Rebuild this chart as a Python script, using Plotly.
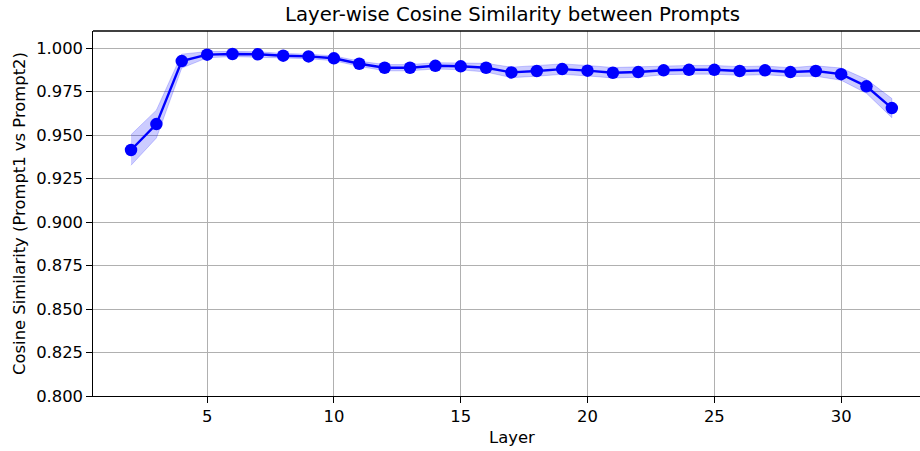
import plotly.graph_objects as go

layers = list(range(2, 33))
similarity = [0.9414, 0.9563, 0.9925, 0.9962, 0.9966, 0.9964, 0.9956, 0.9952, 0.9941,
              0.9910, 0.9887, 0.9887, 0.9898, 0.9895, 0.9887, 0.9860, 0.9868, 0.9879,
              0.9870, 0.9858, 0.9862, 0.9872, 0.9875, 0.9875, 0.9868, 0.9872, 0.9862,
              0.9868, 0.9850, 0.9780, 0.9655]
spread = [0.0088, 0.0080, 0.0040, 0.0018, 0.0015, 0.0015, 0.0013, 0.0013, 0.0014,
          0.0015, 0.0018, 0.0018, 0.0018, 0.0020, 0.0025, 0.0030, 0.0030, 0.0030,
          0.0030, 0.0030, 0.0030, 0.0025, 0.0025, 0.0025, 0.0025, 0.0025, 0.0025,
          0.0030, 0.0035, 0.0040, 0.0055]
x_ticks = [5, 10, 15, 20, 25, 30]
y_ticks = [0.800, 0.825, 0.850, 0.875, 0.900, 0.925, 0.950, 0.975, 1.000]

upper = [m + s for m, s in zip(similarity, spread)]
lower = [m - s for m, s in zip(similarity, spread)]

FONT = "DejaVu Sans"
LABEL = 16.4
TITLE = 19.7
# horizontal centre of the full axes box (it runs a little past the page edge)
CENTER_X = (512 - 93) / 827

fig = go.Figure()
fig.add_trace(go.Scatter(
    x=layers + layers[::-1], y=upper + lower[::-1],
    fill="toself", fillcolor="rgba(0,0,255,0.2)",
    line=dict(color="rgba(0,0,255,0.2)", width=1),
    hoverinfo="skip", showlegend=False))
fig.add_trace(go.Scatter(
    x=layers, y=similarity, mode="lines+markers",
    line=dict(color="#0000ff", width=2.4),
    marker=dict(color="#0000ff", size=12.5),
    showlegend=False))

fig.update_layout(
    width=920, height=451,
    margin=dict(l=93, r=0, t=31, b=55),
    paper_bgcolor="white", plot_bgcolor="white",
    font=dict(family=FONT, size=LABEL, color="black"),
    xaxis=dict(range=[0.5, 33.11], tickvals=x_ticks,
               showgrid=True, gridcolor="#b0b0b0", gridwidth=1.3,
               showline=True, linecolor="black", linewidth=1.3,
               ticks="outside", ticklen=5.5, tickcolor="black", tickwidth=1.3,
               zeroline=False, tickfont=dict(family=FONT, size=LABEL)),
    yaxis=dict(range=[0.8, 1.0098], tickvals=y_ticks,
               ticktext=[f"{v:.3f}" for v in y_ticks],
               showgrid=True, gridcolor="#b0b0b0", gridwidth=1.3,
               showline=True, linecolor="black", linewidth=1.3,
               ticks="outside", ticklen=5.5, tickcolor="black", tickwidth=1.3,
               zeroline=False, tickfont=dict(family=FONT, size=LABEL),
               title=dict(text="Cosine Similarity (Prompt1 vs Prompt2)",
                          font=dict(family=FONT, size=LABEL), standoff=6)),
    annotations=[
        dict(text="Layer-wise Cosine Similarity between Prompts",
             xref="paper", yref="paper", x=CENTER_X, y=1,
             yshift=3, xanchor="center", yanchor="bottom",
             showarrow=False, font=dict(family=FONT, size=TITLE)),
        dict(text="Layer", xref="paper", yref="paper", x=CENTER_X, y=0,
             yshift=-30, xanchor="center", yanchor="top",
             showarrow=False, font=dict(family=FONT, size=LABEL)),
    ],
    shapes=[dict(type="line", xref="paper", yref="paper", x0=0, x1=1, y0=1, y1=1,
                 line=dict(color="black", width=1.3))],
)

fig.write_html("out.html")
